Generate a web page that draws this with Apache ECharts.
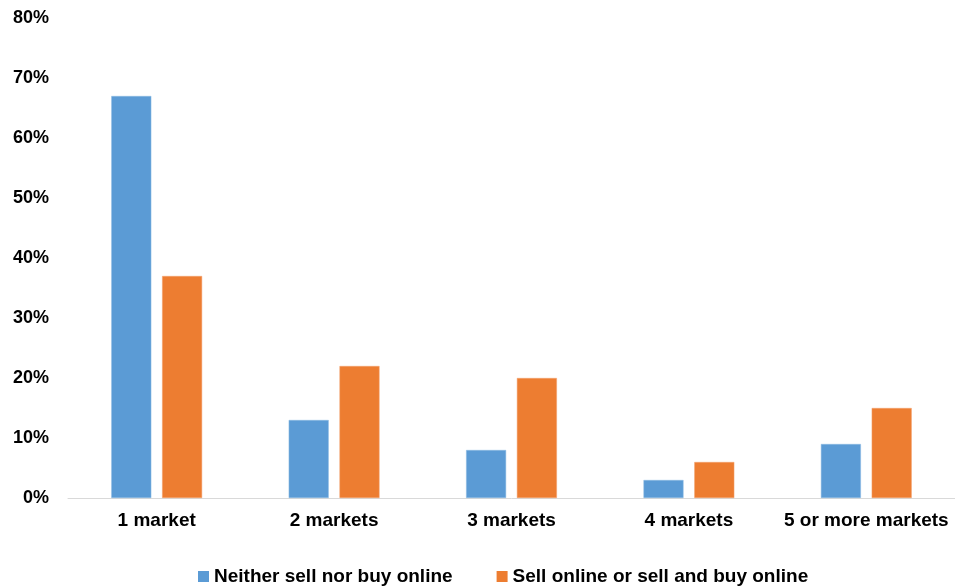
<!DOCTYPE html>
<html>
<head>
<meta charset="utf-8">
<script src="https://cdn.jsdelivr.net/npm/echarts@6/dist/echarts.min.js"></script>
<style>html,body{margin:0;padding:0;background:#fff}#c{width:955px;height:587px}</style>
</head>
<body>
<div id="c"></div>
<script>
const categories = ['1 market', '2 markets', '3 markets', '4 markets', '5 or more markets'];
const seriesNames = ['Neither sell nor buy online', 'Sell online or sell and buy online'];
const neitherValues = [67, 13, 8, 3, 9];
const sellValues = [37, 22, 20, 6, 15];
const colors = ['#5b9bd5', '#ed7d31'];

const chart = echarts.init(document.getElementById('c'));
const font = 'Liberation Sans, Arial, sans-serif';
chart.setOption({
  animation: false,
  grid: { left: 68, right: -5, top: 18, bottom: 89, containLabel: false },
  legend: {
    left: 193, top: 562, itemWidth: 11, itemHeight: 11, itemGap: 44,
    icon: 'rect',
    itemStyle: { borderWidth: 0 },
    textStyle: { fontFamily: font, fontSize: 19, fontWeight: 'bold', color: '#000' },
    data: seriesNames
  },
  xAxis: {
    type: 'category', data: categories,
    axisLine: { lineStyle: { color: '#d9d9d9', width: 1 } },
    axisTick: { show: false },
    axisLabel: { interval: 0, margin: 13, fontFamily: font, fontSize: 19, fontWeight: 'bold', color: '#000' }
  },
  yAxis: {
    type: 'value', min: 0, max: 80, interval: 10,
    axisLine: { show: false }, axisTick: { show: false },
    splitLine: { show: false },
    axisLabel: { formatter: '{value}%', margin: 19, fontFamily: font, fontSize: 18, fontWeight: 'bold', color: '#000' }
  },
  series: [
    { name: seriesNames[0], type: 'bar', data: neitherValues, barWidth: 40, barGap: '27%',
      itemStyle: { color: colors[0], borderColor: '#8dbbe3', borderWidth: 0.5 } },
    { name: seriesNames[1], type: 'bar', data: sellValues, barWidth: 40, barGap: '27%',
      itemStyle: { color: colors[1], borderColor: '#f2a06e', borderWidth: 0.5 } }
  ]
});
</script>
</body>
</html>
